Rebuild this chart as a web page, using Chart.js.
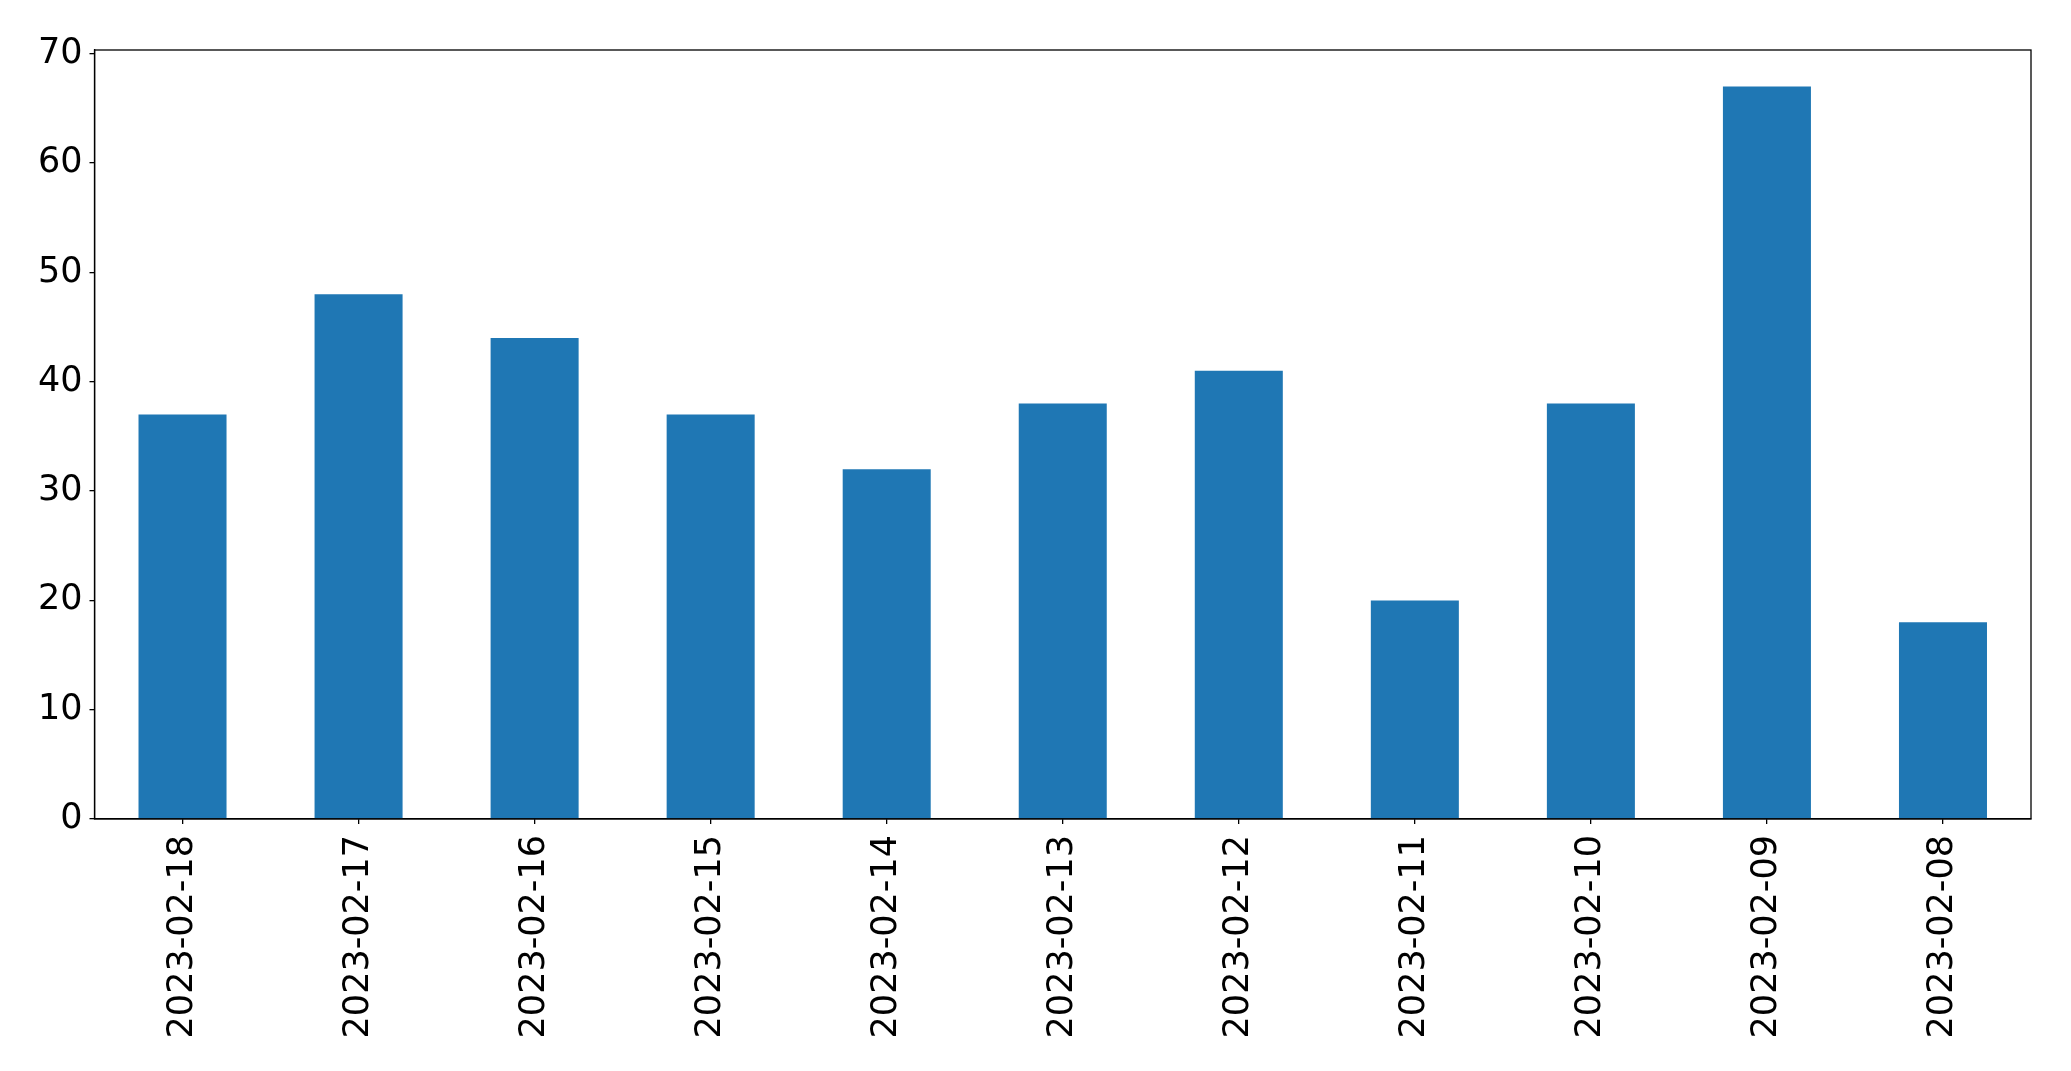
<!DOCTYPE html>
<html lang="en">
<head>
    <meta charset="UTF-8">
    <title>Daily counts</title>
    <script src="https://cdn.jsdelivr.net/npm/chart.js"></script>
    <style>
        html, body { margin: 0; padding: 0; background: #fff; }
        #wrap { width: 2071px; height: 1071px; }
    </style>
</head>
<body>
    <div id="wrap"><canvas id="graphic"></canvas></div>

    <script>
        // data
        const dates = ['2023-02-18', '2023-02-17', '2023-02-16', '2023-02-15', '2023-02-14', '2023-02-13',
                       '2023-02-12', '2023-02-11', '2023-02-10', '2023-02-09', '2023-02-08'];
        const counts = [37, 48, 44, 37, 32, 38, 41, 20, 38, 67, 18];
        const yTicks = [0, 10, 20, 30, 40, 50, 60, 70];

        const tickFont = { family: 'DejaVu Sans', size: 35 };

        // box round the plot area (top and right sides too)
        const frame = {
            id: 'frame',
            afterDraw(chart) {
                const { ctx, chartArea: a } = chart;
                ctx.save();
                ctx.strokeStyle = '#000';
                ctx.lineWidth = 1.3;
                ctx.strokeRect(a.left, a.top, a.right - a.left, a.bottom - a.top);
                ctx.restore();
            }
        };

        new Chart(document.getElementById('graphic'), {
            type: 'bar',
            data: {
                labels: dates,
                datasets: [{
                    data: counts,
                    backgroundColor: '#1f77b4',
                    categoryPercentage: 1,
                    barPercentage: 0.5,
                }],
            },
            options: {
                responsive: true,
                maintainAspectRatio: false,
                animation: false,
                layout: { padding: { top: 50, right: 40, left: 0, bottom: 0 } },
                plugins: { legend: { display: false }, tooltip: { enabled: false } },
                scales: {
                    x: {
                        offset: true,
                        grid: { display: true, drawOnChartArea: false, offset: false, tickLength: 5, color: '#000', lineWidth: 1.3 },
                        border: { display: true, color: '#000', width: 1.3 },
                        ticks: { color: '#000', font: tickFont, minRotation: 90, maxRotation: 90, padding: 11, autoSkip: false },
                        afterFit(axis) { axis.height = 252; },
                    },
                    y: {
                        min: 0,
                        max: 70.35,
                        afterBuildTicks(axis) { axis.ticks = yTicks.map(v => ({ value: v })); },
                        grid: { display: true, drawOnChartArea: false, tickLength: 5, color: '#000', lineWidth: 1.3 },
                        border: { display: true, color: '#000', width: 1.3 },
                        ticks: { color: '#000', font: tickFont, padding: 7 },
                        afterFit(axis) { axis.width = 94.5; },
                    },
                },
            },
            plugins: [frame],
        });
    </script>
</body>
</html>
